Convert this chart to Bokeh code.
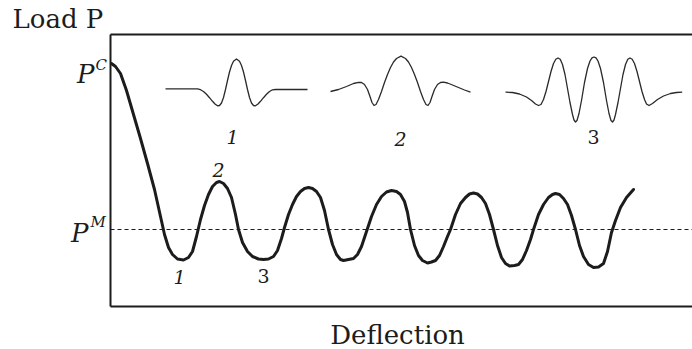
from bokeh.plotting import figure
from bokeh.models import Range1d, Label
from bokeh.embed import file_html
from bokeh.resources import INLINE

# Load-deflection path of a buckling shell: drop from the critical load P^C,
# then oscillation about the Maxwell load P^M.
deflection = [1, 5, 10, 16, 23, 30, 37, 44, 50, 54, 58, 62, 67, 73, 78, 82, 86, 90, 94, 98,
              102, 106, 109, 113, 117, 121, 125, 128, 132, 137, 142, 148, 153, 158, 163, 167,
              171, 174, 178, 182, 186, 190, 194, 198, 202, 206, 210, 214, 218, 222, 226, 230,
              233, 238, 243, 247, 251, 254, 257, 261, 266, 271, 276, 281, 286, 290, 294, 297,
              300, 304, 308, 312, 317, 321, 325, 329, 333, 337, 340, 345, 350, 355, 359, 363,
              367, 371, 375, 379, 383, 387, 391, 395, 399, 404, 408, 412, 416, 420, 423, 428,
              433, 438, 442, 445, 449, 453, 457, 461, 465, 469, 473, 478, 483, 488, 493, 497,
              501, 505, 510, 516, 523]
load = [243, 240, 233, 216, 192, 168, 143, 117, 90, 72, 59, 52, 47.5, 46.5, 49, 55, 70, 87, 101, 112,
        120, 124, 125, 123, 118, 109, 92, 77, 64, 55, 50, 47.5, 47, 47.5, 50, 56,
        68, 79, 92, 102, 110, 115, 118, 119, 118, 115, 109, 96, 77, 62, 52, 47,
        46, 47, 48, 52, 60, 69, 78, 90, 102, 110, 114.5, 116, 115, 112, 105, 94,
        77, 61, 51, 46, 43.5, 44.5, 46, 51, 60, 70, 77, 92, 103, 109, 112.5, 113.5,
        112.5, 109, 103, 92, 77, 61, 49, 43, 40.5, 41, 42, 47, 56, 67, 77, 92,
        102, 109, 112, 113, 112, 108, 102, 91, 77, 61, 50, 42, 39, 39.5, 43, 55,
        74, 86, 99, 109, 117]

P_C = 243
P_M = 77

# Axis box extent in data units
X_MAX = 582
Y_MAX = 272

# Buckling mode shapes drawn above the path
mode1_x = [55, 87, 90, 93, 96, 99, 102, 104.5, 107, 109, 111, 113, 115, 117, 119, 121, 123, 126,
           129, 131, 133, 135, 137, 139, 141, 143, 145, 147.5, 150, 153, 156, 159, 162, 165, 197]
mode1_y = [217.7, 217.7, 216.8, 215, 212.2, 208.8, 205.2, 202.5, 200.7, 201, 203.5, 209, 217, 226,
           234.5, 241, 245.2, 247.5, 245.2, 241, 234.5, 226, 217, 209, 203.5, 201, 200.7, 202.5,
           205.2, 208.8, 212.2, 215, 216.7, 217, 217]

mode2_x = [220, 228, 236, 243, 248, 251, 254, 257, 259.5, 261.5, 263.5, 265.5, 268, 271, 274, 277,
           280, 283, 286, 290.5, 295, 298, 301, 304, 307, 310, 313, 315.5, 317.5, 319.5, 321.5,
           324, 327, 330, 333, 337, 342, 348, 354, 360]
mode2_y = [215, 217, 220, 223, 224.2, 224, 222, 217, 210, 204, 201, 202, 207, 215, 224, 232,
           239, 244.5, 248, 250.3, 248, 244.5, 239, 232, 224, 215, 207, 202, 201, 204, 210,
           217, 222, 224, 224.3, 223.5, 221.5, 219, 216.5, 214.3]

mode3_x = [395, 402, 409, 416, 421, 425, 428, 430.5, 433, 435.5, 438, 440.5, 443, 445.3, 447.5,
           449.7, 452, 454.5, 457, 459.5, 462, 463.5, 465, 466.5, 468.5, 471, 474, 477, 479.5,
           481.5, 483.5, 485.5, 487.5, 490, 493, 496, 498.5, 500.5, 502, 503.5, 505, 507.5, 510,
           512.5, 515, 517.3, 519.5, 521.7, 524, 526.5, 529, 531.5, 534, 536, 538.5, 542, 547,
           553, 560, 566, 571.7]
mode3_y = [214.3, 214, 212.5, 209.5, 206, 202.5, 201, 202, 207, 215, 225, 235, 243, 247.2, 248.5,
           247.2, 242, 232, 218, 204, 192, 186.5, 184.5, 186, 193, 206, 224, 238, 245.5,
           248.7, 249.5, 248.7, 245.5, 238, 224, 206, 193, 186, 184.5, 186.5, 192, 204, 218,
           232, 242, 247.2, 248.5, 247.2, 243, 235, 225, 215, 207, 202.5, 201, 203, 207,
           210.5, 213, 214, 214.3]

# Point labels: (text, x, y, italic)
curve_marks = [("1", 69, 30, True), ("2", 108, 137, True), ("3", 153, 31, False)]
mode_marks = [("1", 122, 170, True), ("2", 290, 168, True), ("3", 483, 170, False)]

SERIF = "DejaVu Serif"
INK = "#1c1c1c"

# The data area covers the whole canvas; the box and its texts sit inside it.
p = figure(width=692, height=349, output_backend="svg", toolbar_location=None,
           x_range=Range1d(-110, X_MAX), y_range=Range1d(-43, 306),
           min_border=0, x_axis_location=None, y_axis_location=None)
p.outline_line_color = None
p.grid.visible = False
p.background_fill_color = "white"
p.border_fill_color = "white"

# Box: left, bottom and top rules
p.segment(x0=[0, 0, 0], y0=[0, 0, Y_MAX], x1=[0, X_MAX, X_MAX], y1=[Y_MAX, 0, Y_MAX],
          line_color=INK, line_width=2)

# Maxwell load level
p.segment(x0=[0], y0=[P_M], x1=[X_MAX], y1=[P_M], line_color=INK, line_width=1, line_dash="4 3")

p.line(deflection, load, line_color=INK, line_width=3, line_join="round", line_cap="round")
for mx, my in ((mode1_x, mode1_y), (mode2_x, mode2_y), (mode3_x, mode3_y)):
    p.line(mx, my, line_color="#2a2a2a", line_width=1.3, line_join="round")


def add_text(text, x, y, size, style="normal", align="left", baseline="alphabetic"):
    p.add_layout(Label(x=x, y=y, text=text, text_font=SERIF, text_font_size=size,
                       text_font_style=style, text_align=align, text_baseline=baseline,
                       text_color=INK))


add_text("Load P", -98, 288, "26px")
add_text("Deflection", 287, -28, "26px", align="center")

add_text("P", -16, 233, "26px", style="italic", align="right")
add_text("C", -15, 242, "15px", style="italic", align="left")
add_text("P", -22, 74, "26px", style="italic", align="right")
add_text("M", -20, 85, "15px", style="italic", align="left")

for t, x, y, it in curve_marks + mode_marks:
    add_text(t, x, y, "19px", style="italic" if it else "normal",
             align="center", baseline="middle")

open("out.html", "w").write(file_html(p, INLINE))
